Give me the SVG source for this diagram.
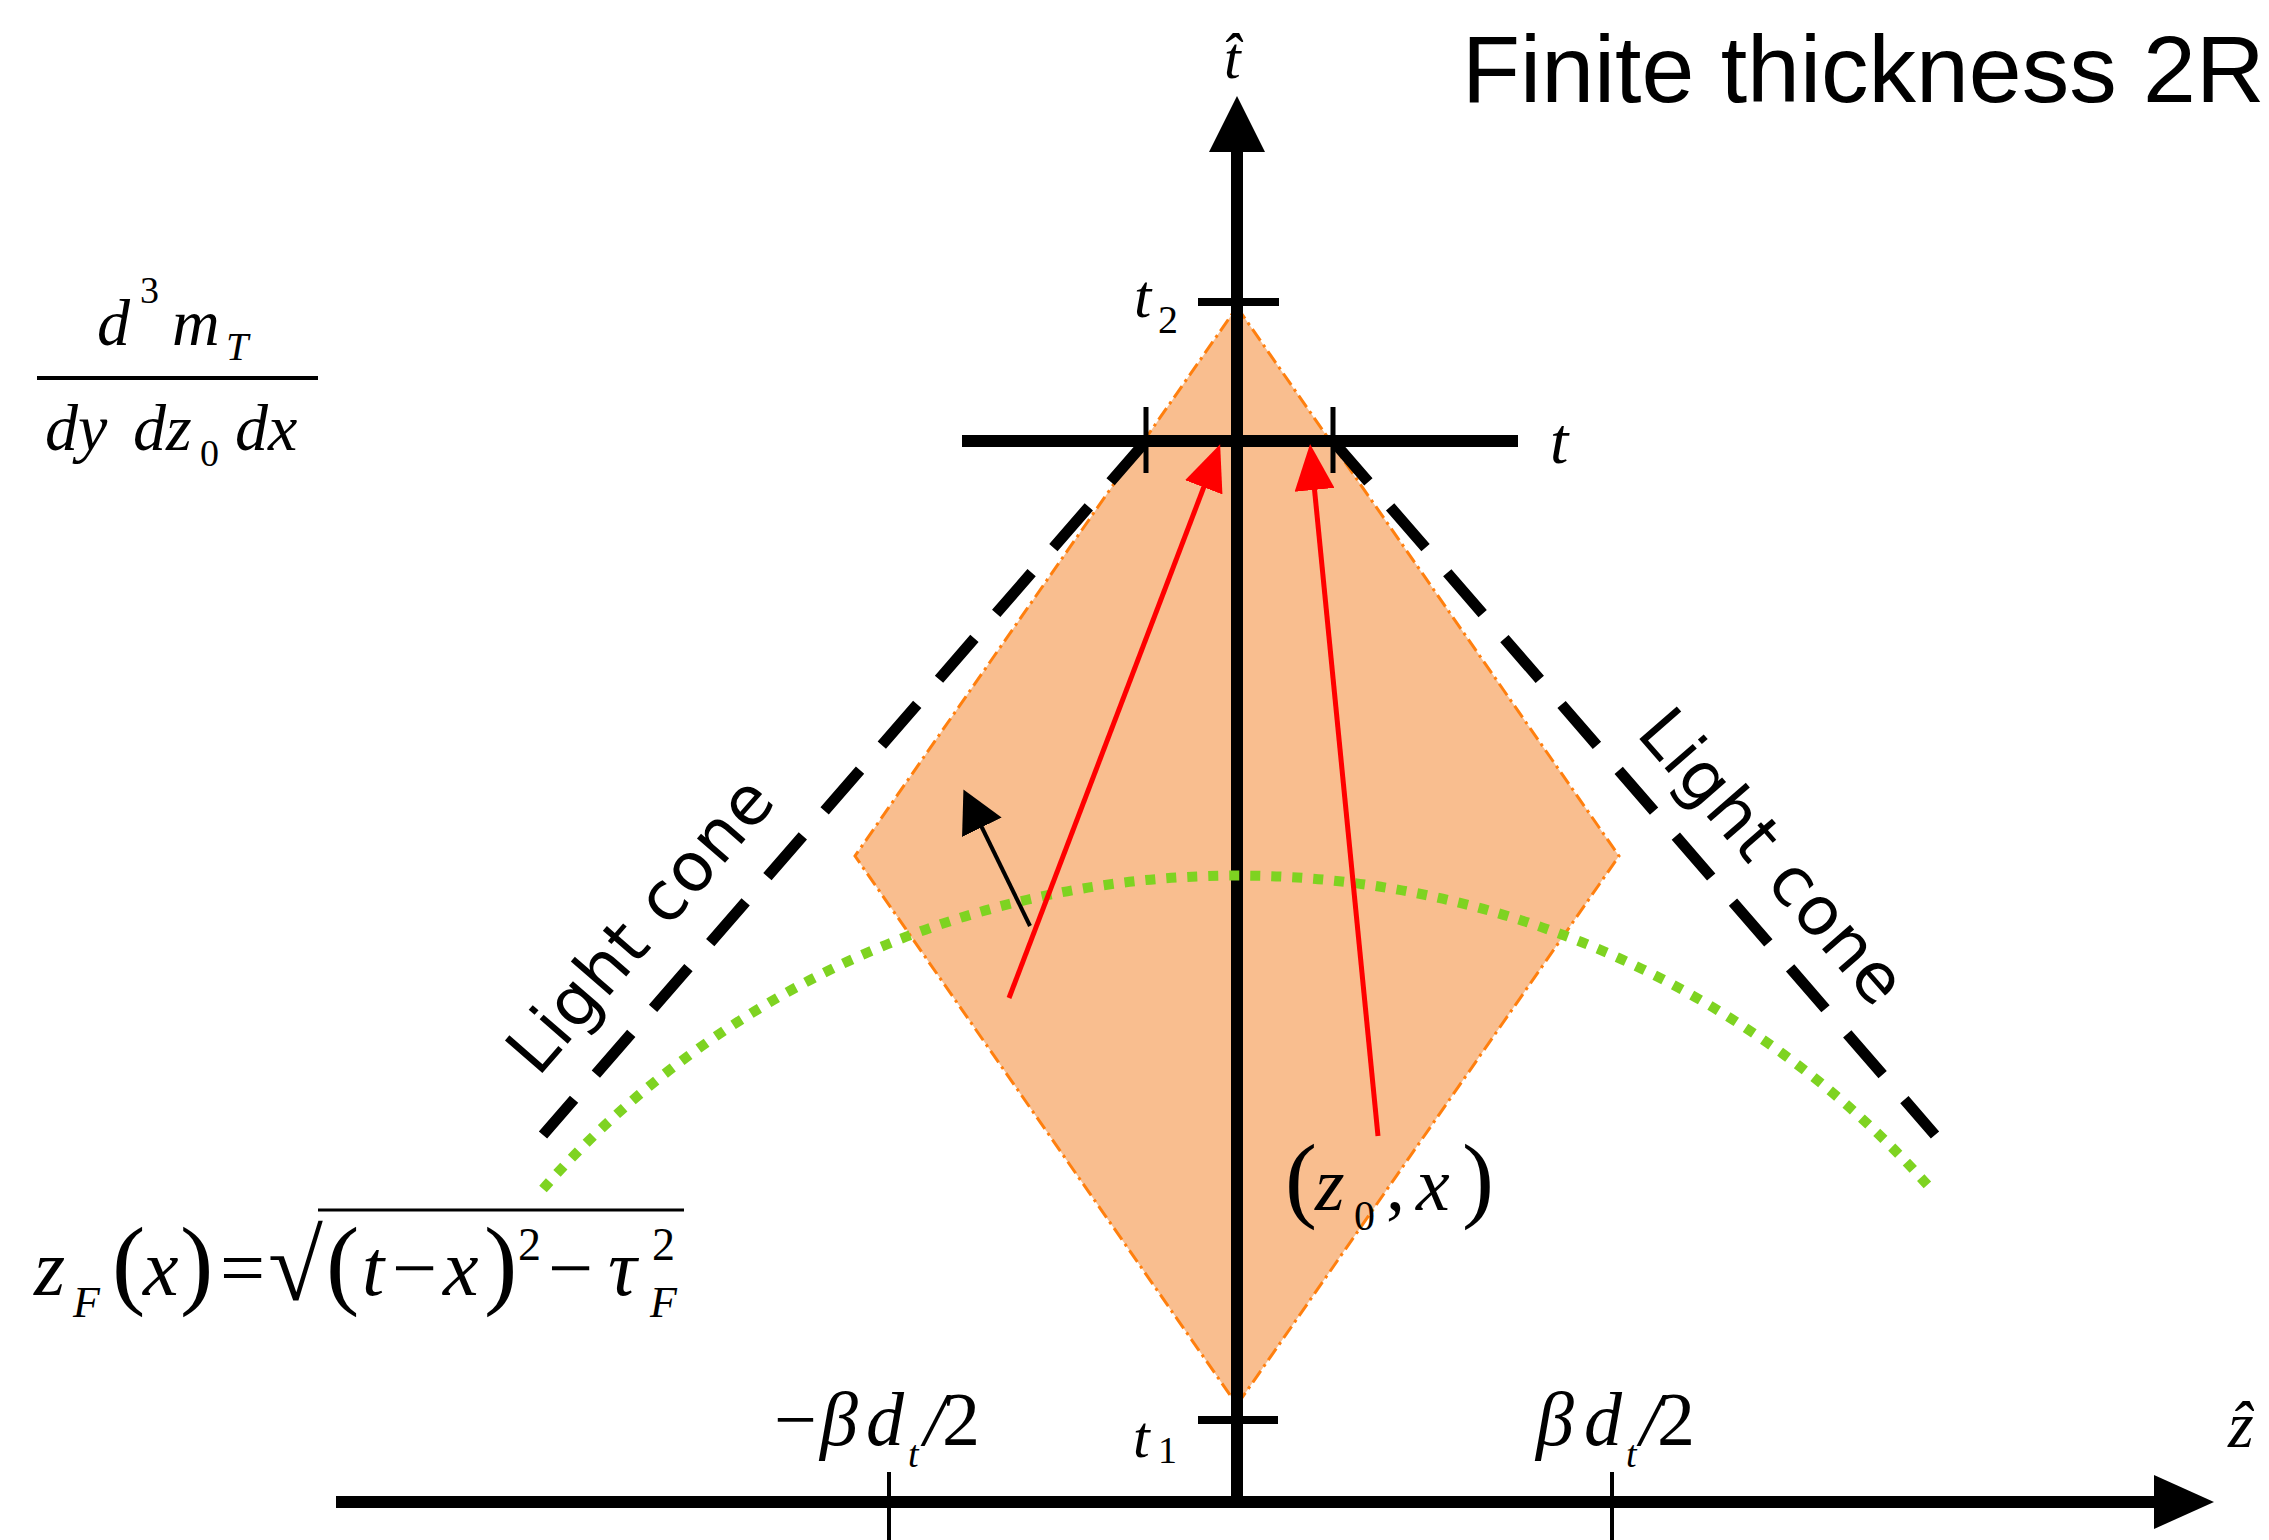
<svg xmlns="http://www.w3.org/2000/svg" width="2269" height="1540" viewBox="0 0 2269 1540">
<style>
.ax{stroke:#000;stroke-width:12;fill:none}
.tk{stroke:#000;fill:none}
.lc{stroke:#000;stroke-width:11;stroke-dasharray:54 33.2;fill:none}
.m{font-family:"Liberation Serif","Times New Roman",serif;font-style:italic;fill:#000}
.n{font-style:normal}
.s{font-family:"DejaVu Sans","Liberation Sans",sans-serif;fill:#000}
.h{font-family:"Liberation Sans",Arial,sans-serif;fill:#000}
</style>
<defs>
<marker id="ar" markerUnits="userSpaceOnUse" markerWidth="46" markerHeight="40" refX="26" refY="20" orient="auto"><path d="M0,0 L46,20 L0,40 Z" fill="#FF0000"/></marker>
<marker id="ab" markerUnits="userSpaceOnUse" markerWidth="42" markerHeight="44" refX="27" refY="22" orient="auto"><path d="M0,0 L42,22 L0,44 Z" fill="#000"/></marker>
</defs>
<rect width="2269" height="1540" fill="#fff"/>
<g id="diamond"><polygon points="1237,307 1619,856 1237,1405 855,856" fill="#F9BE8F" stroke="#FF7F0E" stroke-width="3" stroke-dasharray="14 5 3 5"/></g>
<g id="axes">
<line class="ax" x1="336" y1="1502" x2="2160" y2="1502"/>
<polygon points="2214,1502 2154,1475 2154,1529" fill="#000"/>
<line class="ax" x1="1237" y1="1508" x2="1237" y2="148"/>
<polygon points="1237,96 1209,152 1265,152" fill="#000"/>
<line class="tk" stroke-width="8" x1="1198" y1="302" x2="1279" y2="302"/>
<line class="tk" stroke-width="8" x1="1198" y1="1420" x2="1278" y2="1420"/>
<line class="ax" x1="962" y1="441" x2="1518" y2="441"/>
<line class="tk" stroke-width="5" x1="1146" y1="407" x2="1146" y2="473"/>
<line class="tk" stroke-width="5" x1="1333" y1="407" x2="1333" y2="473"/>
<line class="tk" stroke-width="4" x1="889" y1="1472" x2="889" y2="1540"/>
<line class="tk" stroke-width="4" x1="1612" y1="1472" x2="1612" y2="1540"/>
</g>
<g id="light-cones">
<line class="lc" x1="1146" y1="441" x2="543" y2="1135"/>
<line class="lc" x1="1333" y1="441" x2="1935" y2="1135"/>
</g>
<g id="formation-curve">
<path d="M543,1189 A925,925 0 0 1 1931,1189" fill="none" stroke="#7ED321" stroke-width="10" stroke-dasharray="10 11"/>
</g>
<g id="connectors">
<line x1="1009" y1="998" x2="1213" y2="463" stroke="#FF0000" stroke-width="5" marker-end="url(#ar)"/>
<line x1="1378" y1="1136" x2="1312" y2="464" stroke="#FF0000" stroke-width="5" marker-end="url(#ar)"/>
<line x1="1030" y1="926" x2="970" y2="803" stroke="#000" stroke-width="4" marker-end="url(#ab)"/>
</g>
<g id="title"><text class="h" x="1462" y="102" font-size="95">Finite thickness 2R</text></g>
<g id="label-that"><text class="m" x="1224" y="78" font-size="60">t̂</text></g>
<g id="label-zhat"><text class="m" x="2228" y="1447" font-size="66">ẑ</text></g>
<g id="label-t"><text class="m" x="1550" y="463" font-size="66">t</text></g>
<g id="label-t2"><text class="m" font-size="62"><tspan x="1134" y="317">t</tspan><tspan x="1158" y="333" class="n" font-size="40">2</tspan></text></g>
<g id="label-t1"><text class="m" font-size="60"><tspan x="1133" y="1457">t</tspan><tspan x="1158" y="1463" class="n" font-size="38">1</tspan></text></g>
<g id="label-neg-bdt"><text class="m" font-size="76"><tspan x="774" y="1445" class="n">−</tspan><tspan x="820" y="1445">β</tspan><tspan x="866" y="1445">d</tspan><tspan x="908" y="1467" font-size="38">t</tspan><tspan x="924" y="1445">/</tspan><tspan x="942" y="1445" class="n">2</tspan></text></g>
<g id="label-bdt"><text class="m" font-size="76"><tspan x="1536" y="1445">β</tspan><tspan x="1584" y="1445">d</tspan><tspan x="1626" y="1467" font-size="38">t</tspan><tspan x="1640" y="1445">/</tspan><tspan x="1657" y="1445" class="n">2</tspan></text></g>
<g id="label-fraction">
<text class="m" font-size="66"><tspan x="97" y="345">d</tspan><tspan x="140" y="303" class="n" font-size="38">3</tspan><tspan x="172" y="345">m</tspan><tspan x="226" y="360" font-size="40">T</tspan></text>
<line x1="37" y1="378" x2="318" y2="378" stroke="#000" stroke-width="4"/>
<text class="m" font-size="66"><tspan x="45" y="450">dy</tspan><tspan x="133" y="450">dz</tspan><tspan x="200" y="466" class="n" font-size="38">0</tspan><tspan x="235" y="450">dx</tspan></text>
</g>
<g id="label-zF">
<line x1="318" y1="1210" x2="684" y2="1210" stroke="#000" stroke-width="3"/>
<text class="m" font-size="80"><tspan x="34" y="1295">z</tspan><tspan x="73" y="1317" font-size="44">F</tspan><tspan x="112" y="1296" class="n" font-size="100">(</tspan><tspan x="143" y="1295">x</tspan><tspan x="180" y="1296" class="n" font-size="100">)</tspan><tspan x="220" y="1295" class="n">=</tspan><tspan x="268" y="1300" class="n" font-size="100">√</tspan><tspan x="326" y="1296" class="n" font-size="100">(</tspan><tspan x="362" y="1295">t</tspan><tspan x="392" y="1295" class="n">−</tspan><tspan x="443" y="1295">x</tspan><tspan x="484" y="1296" class="n" font-size="100">)</tspan><tspan x="518" y="1260" class="n" font-size="46">2</tspan><tspan x="548" y="1295" class="n">−</tspan><tspan x="608" y="1295">τ</tspan><tspan x="652" y="1260" class="n" font-size="46">2</tspan><tspan x="650" y="1317" font-size="44">F</tspan></text>
</g>
<g id="label-z0x"><text class="m" font-size="76"><tspan x="1285" y="1210" class="n" font-size="96">(</tspan><tspan x="1315" y="1210">z</tspan><tspan x="1354" y="1230" class="n" font-size="42">0</tspan><tspan x="1386" y="1210" class="n">,</tspan><tspan x="1416" y="1210">x</tspan><tspan x="1462" y="1210" class="n" font-size="96">)</tspan></text></g>
<g id="label-lightcone-left"><text class="s" transform="translate(538,1078) rotate(-49)" font-size="68" textLength="365">Light cone</text></g>
<g id="label-lightcone-right"><text class="s" transform="translate(1635,734) rotate(49)" font-size="68" textLength="365">Light cone</text></g>
</svg>
